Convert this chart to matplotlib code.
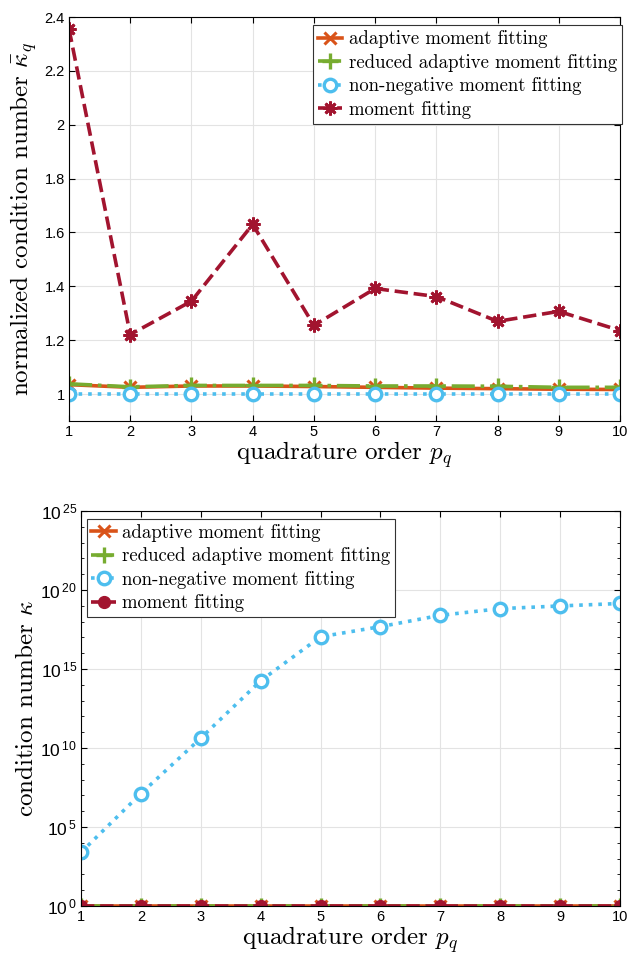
"""Condition numbers of the moment-fitting variants vs quadrature order."""

import math

import matplotlib
matplotlib.use("Agg")
import matplotlib.pyplot as plt
from matplotlib.ticker import FixedLocator, FuncFormatter, NullFormatter

plt.rcParams["font.family"] = ["Liberation Sans", "DejaVu Sans"]
plt.rcParams["mathtext.fontset"] = "cm"

ORDERS = [1, 2, 3, 4, 5, 6, 7, 8, 9, 10]

# top panel: normalized condition number
KAPPA_BAR_ADAPTIVE = [1.035, 1.025, 1.030, 1.030, 1.028, 1.025, 1.022, 1.020, 1.018, 1.017]
KAPPA_BAR_REDUCED = [1.038, 1.027, 1.032, 1.032, 1.032, 1.030, 1.030, 1.029, 1.025, 1.025]
KAPPA_BAR_NONNEG = [1.0, 1.0, 1.0, 1.0, 1.0, 1.0, 1.0, 1.0, 1.0, 1.0]
KAPPA_BAR_MOMENT = [2.356, 1.221, 1.345, 1.630, 1.255, 1.392, 1.362, 1.270, 1.307, 1.236]

# bottom panel: condition number
KAPPA_ADAPTIVE = [1.0] * 10
KAPPA_REDUCED = [1.0] * 10
KAPPA_NONNEG = [2.5e3, 1.3e7, 4.2e10, 1.8e14, 1.1e17, 4.8e17, 2.5e18, 6.6e18, 9.8e18, 1.4e19]
KAPPA_MOMENT = [1.0] * 10

LABELS = [
    "adaptive moment fitting",
    "reduced adaptive moment fitting",
    "non-negative moment fitting",
    "moment fitting",
]
ORANGE, GREEN, BLUE, RED = "#D95319", "#77AC30", "#4DBEEE", "#A2142F"
SERIF = "cmr10"
ASTERISK = (8, 2, 0)


def style_axes(ax):
    ax.set_xlim(1, 10)
    ax.set_xticks(ORDERS)
    ax.grid(True, color="#e3e3e3", lw=0.8)
    ax.set_axisbelow(True)
    ax.tick_params(direction="in", top=True, right=True, labelsize=10.5,
                   length=4, width=0.8, pad=3)
    ax.tick_params(which="minor", direction="in", right=True, length=2.5, width=0.6)
    for s in ax.spines.values():
        s.set_linewidth(0.8)
    ax.set_xlabel(r"quadrature order $p_q$", family=SERIF, fontsize=18, labelpad=0)


def draw(ax, ys, moment_marker):
    lw = 2.6
    ax.plot(ORDERS, ys[0], "-", color=ORANGE, lw=lw, marker="x",
            ms=8, mew=2.2, label=LABELS[0])
    ax.plot(ORDERS, ys[1], "-.", color=GREEN, lw=lw, marker="+",
            ms=11, mew=2.4, label=LABELS[1])
    ax.plot(ORDERS, ys[2], ":", color=BLUE, lw=lw, marker="o",
            ms=9, mew=2.4, mfc="white", label=LABELS[2])
    if moment_marker == "o":
        ax.plot(ORDERS, ys[3], "--", color=RED, lw=lw, marker="o",
                ms=8.5, mew=1.0, label=LABELS[3])
    else:
        ax.plot(ORDERS, ys[3], "--", color=RED, lw=lw, marker=moment_marker,
                ms=10, mew=2.0, label=LABELS[3])


def add_legend(ax, loc, anchor):
    leg = ax.legend(loc=loc, bbox_to_anchor=anchor,
                    prop={"family": SERIF, "size": 13.5}, fancybox=False,
                    edgecolor="#333333", handlelength=1.3, handletextpad=0.35,
                    borderpad=0.25, labelspacing=0.3, borderaxespad=0.0,
                    framealpha=1.0)
    leg.get_frame().set_linewidth(0.8)


fig = plt.figure(figsize=(6.3, 9.59), dpi=100)
ax1 = fig.add_axes([69 / 630, 1 - 421 / 959, 551 / 630, 404 / 959])
ax2 = fig.add_axes([81 / 630, 1 - 906 / 959, 539 / 630, 395 / 959])

# ---- top panel
draw(ax1, [KAPPA_BAR_ADAPTIVE, KAPPA_BAR_REDUCED, KAPPA_BAR_NONNEG, KAPPA_BAR_MOMENT],
     ASTERISK)
ax1.set_ylim(0.9, 2.4)
ax1.set_yticks([1, 1.2, 1.4, 1.6, 1.8, 2, 2.2, 2.4])
ax1.set_yticklabels(["1", "1.2", "1.4", "1.6", "1.8", "2", "2.2", "2.4"])
style_axes(ax1)
ax1.set_ylabel(r"normalized condition number $\bar{\kappa}_q$", family=SERIF,
               fontsize=18, labelpad=4)
add_legend(ax1, "upper right", (1.003, 0.979))

# ---- bottom panel
draw(ax2, [KAPPA_ADAPTIVE, KAPPA_REDUCED, KAPPA_NONNEG, KAPPA_MOMENT], "o")
ax2.set_yscale("log")
ax2.set_ylim(1, 1e25)
ax2.yaxis.set_major_locator(FixedLocator([10.0 ** k for k in range(0, 26, 5)]))
ax2.yaxis.set_minor_locator(
    FixedLocator([10.0 ** k for k in range(0, 26) if k % 5]))
ax2.yaxis.set_minor_formatter(NullFormatter())
ax2.yaxis.set_major_formatter(
    FuncFormatter(lambda v, _: r"$\mathregular{10^{\,%d}}$" % round(math.log10(v))))
style_axes(ax2)
ax2.tick_params(axis="y", which="major", labelsize=12.5)
ax2.grid(False, which="minor")
ax2.set_ylabel(r"condition number $\kappa$", family=SERIF, fontsize=18, labelpad=2)
add_legend(ax2, "upper left", (0.0106, 0.98))

fig.savefig("out.png", dpi=100)
